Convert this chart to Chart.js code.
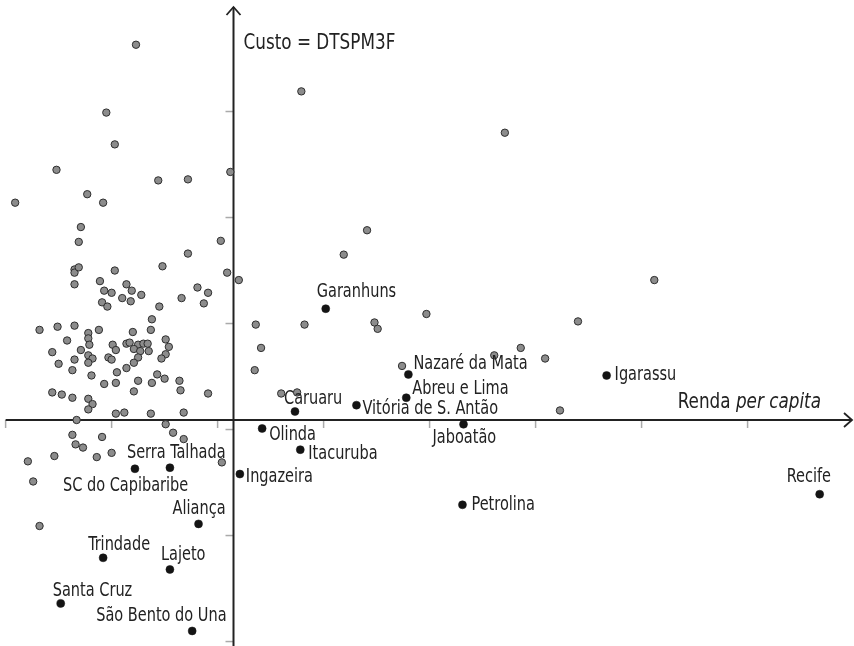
<!DOCTYPE html>
<html>
<head>
<meta charset="utf-8">
<script src="https://cdn.jsdelivr.net/npm/chart.js@4/dist/chart.umd.min.js"></script>
<style>
  html, body { margin: 0; padding: 0; background: #fff; }
  #wrap { width: 854px; height: 646px; position: relative; }
</style>
</head>
<body>
<div id="wrap"><canvas id="grafico"></canvas></div>
<script>
// municipios sem rotulo (cinza)
var cinzaX = [-0.92, -1.20, -1.12, -1.67, -1.38, -1.23, -2.06, -0.71, -0.43, -0.03,
  -1.44, -1.46, -1.50, -1.50, -1.46, -1.50, -1.12, -1.26, -1.01, -1.22,
  -1.15, -0.96, -0.87, -1.05, -0.97, -1.24, -1.19, -0.67, -0.43, -0.12,
  -0.06, 0.05, -0.34, -0.24, -0.49, -0.28, -0.70, -0.77, -1.83, -1.66,
  -1.50, -1.27, -1.37, -1.37, -0.95, -0.78, -1.57, -1.44, -1.36, -1.71,
  -1.14, -1.11, -1.01, -0.98, -0.90, -0.94, -0.85, -0.81, -0.80, -0.88,
  -0.64, -0.61, -0.64, -0.68, -0.90, -0.94, -1.18, -1.15, -1.37, -1.33,
  -1.37, -1.50, -1.65, -1.52, -1.34, -1.10, -1.01, -0.72, -0.65, -0.51,
  -0.50, -0.90, -0.77, -1.11, -1.22, -0.94, -1.71, -1.62, -1.52, -1.37,
  -1.33, -1.37, -0.24, -1.11, -1.03, -0.78, -0.47, -1.48, -0.64, -0.57,
  -0.47, -1.52, -1.24, -1.49, -1.42, -1.94, -1.69, -1.29, -1.15, -0.11,
  -1.89, -1.83, 0.64, 2.56, 1.26, 1.04, 0.21, 0.67, 1.33, 1.36,
  1.82, 2.71, 2.46, 0.26, 0.20, 1.59, 0.45, 0.60, 3.97, 3.25,
  2.94, 3.08];
var cinzaY = [3.54, 2.90, 2.60, 2.36, 2.13, 2.05, 2.05, 2.26, 2.27, 2.34,
  1.82, 1.68, 1.42, 1.39, 1.44, 1.28, 1.41, 1.31, 1.28, 1.22,
  1.20, 1.22, 1.18, 1.15, 1.12, 1.11, 1.07, 1.45, 1.57, 1.69,
  1.39, 1.32, 1.25, 1.20, 1.15, 1.10, 1.07, 0.95, 0.85, 0.88,
  0.89, 0.85, 0.82, 0.77, 0.83, 0.85, 0.75, 0.66, 0.71, 0.64,
  0.71, 0.66, 0.72, 0.73, 0.71, 0.67, 0.72, 0.72, 0.65, 0.65,
  0.76, 0.69, 0.62, 0.58, 0.59, 0.54, 0.59, 0.57, 0.61, 0.58,
  0.54, 0.57, 0.53, 0.47, 0.42, 0.45, 0.49, 0.43, 0.39, 0.37,
  0.28, 0.37, 0.35, 0.35, 0.34, 0.27, 0.26, 0.24, 0.21, 0.20,
  0.15, 0.10, 0.25, 0.06, 0.07, 0.06, 0.07, 0.00, -0.04, -0.12,
  -0.18, -0.14, -0.16, -0.23, -0.26, -0.39, -0.34, -0.35, -0.31, -0.40,
  -0.58, -1.00, 3.10, 2.71, 1.79, 1.56, 0.90, 0.90, 0.92, 0.86,
  1.00, 0.68, 0.61, 0.68, 0.47, 0.51, 0.25, 0.26, 1.32, 0.93,
  0.58, 0.09];

// municipios com rotulo (preto)
var cidades = ['Garanhuns', 'Nazaré da Mata', 'Abreu e Lima', 'Vitória de S. Antão', 'Caruaru',
  'Igarassu', 'Jaboatão', 'Olinda', 'Itacuruba', 'Ingazeira', 'Petrolina', 'Recife',
  'Serra Talhada', 'SC do Capibaribe', 'Aliança', 'Trindade', 'Lajeto', 'Santa Cruz', 'São Bento do Una'];
var cidadesX = [0.87, 1.65, 1.63, 1.16, 0.58, 3.52, 2.17, 0.27, 0.63, 0.06, 2.16, 5.53,
  -0.60, -0.93, -0.33, -1.23, -0.60, -1.63, -0.39];
var cidadesY = [1.05, 0.43, 0.21, 0.14, 0.08, 0.42, -0.04, -0.08, -0.28, -0.51, -0.80, -0.70,
  -0.45, -0.46, -0.98, -1.30, -1.41, -1.73, -1.99];

var xTicks = [-2.15, -1.15, -0.15, 0.85, 1.85, 2.85, 3.85, 4.85];
var yTicks = [2.91, 1.91, 0.91, -0.09, -1.09, -2.09];

// deslocamento dos rotulos em px (esquerda do texto, meio)
var rotuloDx = [-9, 5, 6, 6, -11, 8, -31, 7, 8, 6, 9, -33, -43, -72, -26, -15, -9, -8, -96];
var rotuloDy = [-17, -10, -9, 4, -12, 0, 14, 7, 4, 3, 0, -17, -15, 17, -15, -13, -14, -12, -15];

var fonte = "'DejaVu Sans Condensed', 'DejaVu Sans', sans-serif";
var estreito = 0.85; // fonte condensada do original
var corTexto = '#222';

function texto(ctx, str, x, y, font) {
  ctx.save();
  ctx.translate(x, y);
  ctx.scale(estreito, 1);
  ctx.font = font;
  ctx.fillText(str, 0, 0);
  ctx.restore();
}
function largura(ctx, str, font) {
  ctx.save();
  ctx.font = font;
  var w = ctx.measureText(str).width * estreito;
  ctx.restore();
  return w;
}

var eixos = {
  id: 'eixos',
  beforeDatasetsDraw: function (chart) {
    var ctx = chart.ctx, sx = chart.scales.x, sy = chart.scales.y;
    var x0 = sx.getPixelForValue(0), y0 = sy.getPixelForValue(0);
    ctx.save();
    // marcas
    ctx.strokeStyle = '#aaa';
    ctx.lineWidth = 1.5;
    xTicks.forEach(function (t) {
      var px = sx.getPixelForValue(t);
      ctx.beginPath(); ctx.moveTo(px, y0); ctx.lineTo(px, y0 + 8); ctx.stroke();
    });
    yTicks.forEach(function (t) {
      var py = sy.getPixelForValue(t);
      ctx.beginPath(); ctx.moveTo(x0, py); ctx.lineTo(x0 - 8, py); ctx.stroke();
    });
    // eixos
    ctx.strokeStyle = '#222';
    ctx.lineWidth = 2;
    var xa = sx.getPixelForValue(xTicks[0]), xb = chart.chartArea.right - 2;
    var ya = chart.chartArea.bottom, yb = chart.chartArea.top + 7;
    ctx.beginPath(); ctx.moveTo(xa, y0); ctx.lineTo(xb, y0); ctx.stroke();
    ctx.beginPath(); ctx.moveTo(x0, ya); ctx.lineTo(x0, yb); ctx.stroke();
    ctx.lineWidth = 1.8;
    ctx.beginPath(); ctx.moveTo(xb - 8, y0 - 7); ctx.lineTo(xb, y0); ctx.lineTo(xb - 8, y0 + 7); ctx.stroke();
    ctx.beginPath(); ctx.moveTo(x0 - 7, yb + 8); ctx.lineTo(x0, yb); ctx.lineTo(x0 + 7, yb + 8); ctx.stroke();
    ctx.restore();
  },
  afterDatasetsDraw: function (chart) {
    var ctx = chart.ctx, sx = chart.scales.x, sy = chart.scales.y;
    var x0 = sx.getPixelForValue(0), y0 = sy.getPixelForValue(0);
    ctx.save();
    ctx.fillStyle = corTexto;
    ctx.textBaseline = 'middle';
    ctx.textAlign = 'left';
    var f19 = '19px ' + fonte;
    cidades.forEach(function (nome, i) {
      var px = sx.getPixelForValue(cidadesX[i]), py = sy.getPixelForValue(cidadesY[i]);
      texto(ctx, nome, px + rotuloDx[i], py + rotuloDy[i], f19);
    });
    // titulos dos eixos
    var f22 = '22px ' + fonte, f22i = 'italic 22px ' + fonte;
    texto(ctx, 'Custo = DTSPM3F', x0 + 10, 43, f22);
    var w1 = largura(ctx, 'Renda ', f22);
    var w2 = largura(ctx, 'per capita', f22i);
    var xr = chart.chartArea.right - 33 - w1 - w2;
    texto(ctx, 'Renda ', xr, y0 - 18, f22);
    texto(ctx, 'per capita', xr + w1, y0 - 18, f22i);
    ctx.restore();
  }
};

function pares(xs, ys) {
  return xs.map(function (v, i) { return { x: v, y: ys[i] }; });
}

new Chart(document.getElementById('grafico'), {
  type: 'scatter',
  data: {
    datasets: [{
      label: 'Municípios',
      data: pares(cinzaX, cinzaY),
      pointRadius: 3.7,
      backgroundColor: '#8c8c8c',
      borderColor: '#2e2e2e',
      borderWidth: 1
    }, {
      label: 'Destaques',
      data: pares(cidadesX, cidadesY),
      pointRadius: 4,
      backgroundColor: '#141414',
      borderColor: '#141414',
      borderWidth: 0.5
    }]
  },
  options: {
    responsive: true,
    maintainAspectRatio: false,
    animation: false,
    layout: { padding: 0, autoPadding: false },
    plugins: { legend: { display: false }, tooltip: { enabled: false } },
    scales: {
      x: { type: 'linear', min: -2.203, max: 5.854, display: false },
      y: { type: 'linear', min: -2.132, max: 3.962, display: false }
    }
  },
  plugins: [eixos]
});
</script>
</body>
</html>
